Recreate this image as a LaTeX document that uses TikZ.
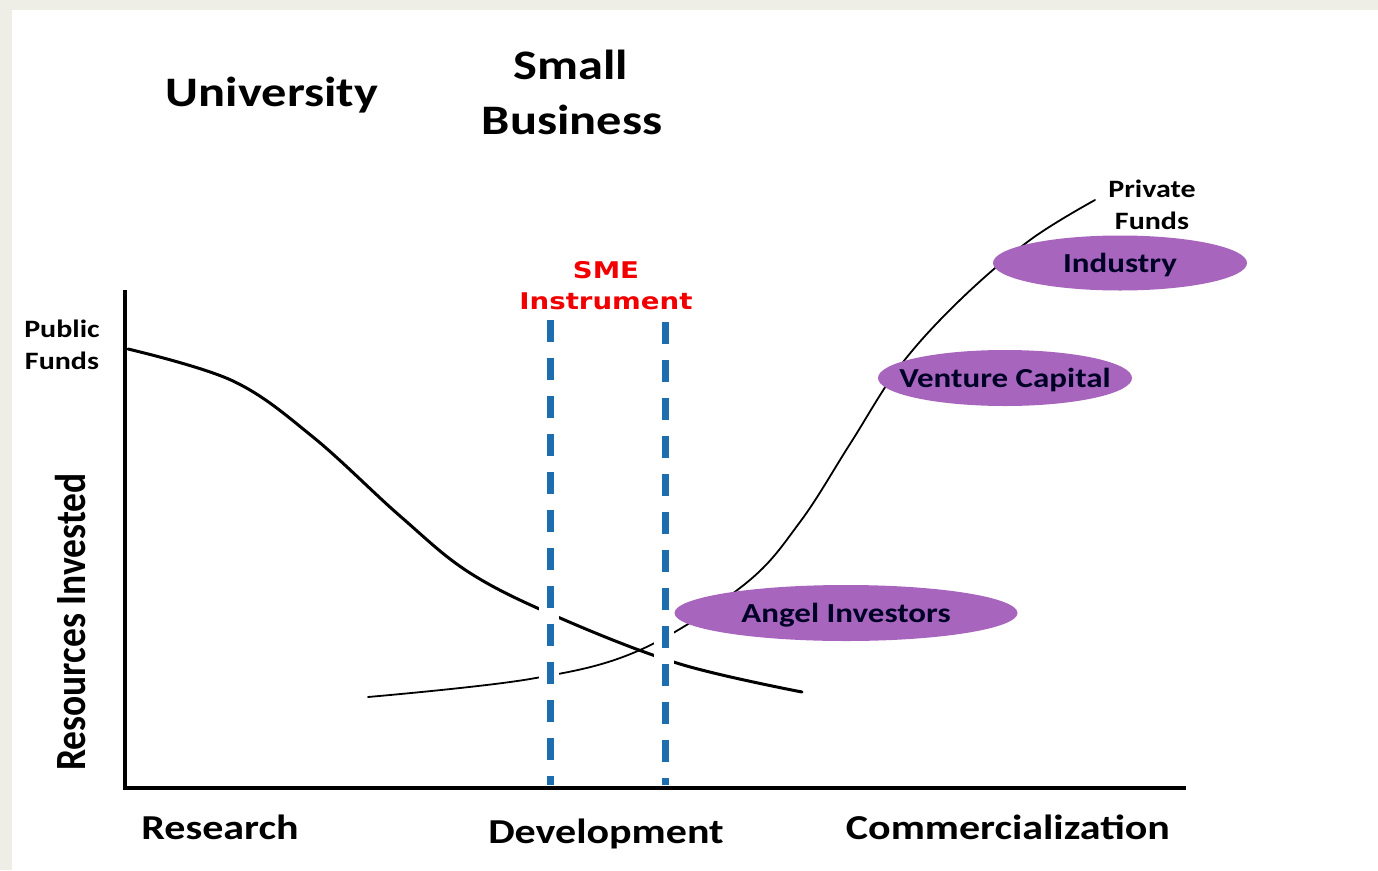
\documentclass[tikz,border=0pt]{standalone}
\usepackage{fontspec}
\setmainfont{Carlito}[FakeStretch=1.2]
\newfontfamily\plainfont{Carlito}
\newfontfamily\smefont{DejaVu Sans}[FakeStretch=1.2]
\usetikzlibrary{shapes.geometric}
\definecolor{beige}{HTML}{EEEEE6}
\definecolor{purp}{HTML}{A865BE}
\definecolor{smeblue}{HTML}{1C6EAE}
\definecolor{smered}{HTML}{F20000}
\tikzset{
  lbl/.style={inner sep=0pt, anchor=base, font=\bfseries},
  head/.style={lbl, font=\fontsize{42}{55}\selectfont\bfseries},
  axlbl/.style={lbl, font=\fontsize{35}{40}\selectfont\bfseries},
  fund/.style={lbl, font=\fontsize{25}{32}\selectfont\bfseries},
  oval/.style={ellipse, fill=purp, draw=none, inner sep=0pt},
  ovaltext/.style={inner sep=0pt, text height=18pt, text depth=0pt,
    font=\fontsize{27.5}{30}\selectfont\bfseries, text=black!85!blue},
  axis/.style={line width=4pt, line cap=rect},
  pubcurve/.style={line width=3pt, line cap=round},
  privcurve/.style={line width=1.8pt, line cap=round},
  smeline/.style={line width=7pt, smeblue, dash pattern=on 22pt off 16pt},
  gapstrip/.style={line width=20pt, white},
}
\begin{document}
\begin{tikzpicture}[x=1pt,y=-1pt]
\useasboundingbox (0,0) rectangle (1378,870);
\fill[beige] (0,0) rectangle (1378,870);
\fill[white] (12,10) rectangle (1378,870);

% headings
\node[head] (uni) at (272,106) {University};
\node[head] (small) at (571,79) {Small};
\node[head] (bus) at (572,134) {Business};

% axes
\coordinate (top) at (125,292);
\coordinate (origin) at (125,788);
\coordinate (right) at (1184,788);
\draw[axis] (top) -- (origin) -- (right);

% axis labels
\node[axlbl] (res) at (220,839) {Research};
\node[axlbl] (dev) at (606,843) {Development};
\node[axlbl] (com) at (1008,839) {Commercialization};
\node[inner sep=0pt, rotate=90] (ri) at (71,622) {\scalebox{1}[1.15]{\plainfont\fontsize{37.5}{40}\selectfont\bfseries Resources Invested}};

% funds labels
\node[fund] (pub1) at (62,337) {Public};
\node[fund] (pub2) at (62,369) {Funds};
\node[fund] (pri1) at (1152,197) {Private};
\node[fund] (pri2) at (1152,229) {Funds};

% curves
\draw[pubcurve] plot[smooth, tension=0.6] coordinates {(128,349) (233,381) (313,437) (400,516) (470,573) (560,618) (680,664) (802,692)};
\draw[privcurve] plot[smooth, tension=0.6] coordinates {(368,697) (530,679) (640,650) (745,584) (800,522) (850,444) (900,366) (960,300) (1030,240) (1095,200)};

% gaps where the curves cross the SME lines
\coordinate (g1a) at (549,598); \coordinate (g1b) at (549,700);
\coordinate (g2a) at (664,598); \coordinate (g2b) at (664,700);
\draw[gapstrip] (g1a) -- (g1b);
\draw[gapstrip] (g2a) -- (g2b);

% SME instrument lines
\coordinate (s1t) at (550,320); \coordinate (s1b) at (550,785);
\coordinate (s2t) at (665,322); \coordinate (s2b) at (665,785);
\draw[smeline] (s1t) -- (s1b);
\draw[smeline] (s2t) -- (s2b);
\node[lbl, smered, font=\smefont\fontsize{23}{30}\selectfont\bfseries] (sme1) at (606,278) {SME};
\node[lbl, smered, font=\smefont\fontsize{23}{30}\selectfont\bfseries] (sme2) at (606,309) {Instrument};

% investor ellipses
\node[oval, minimum width=254pt, minimum height=55pt] (ind) at (1120,263) {};
\node[ovaltext] (indt) at (ind.center) {Industry};
\node[oval, minimum width=254pt, minimum height=56pt] (vc) at (1005,378) {};
\node[ovaltext] (vct) at (vc.center) {Venture Capital};
\node[oval, minimum width=343pt, minimum height=56pt] (ang) at (846,613) {};
\node[ovaltext] (angt) at (ang.center) {Angel Investors};
\end{tikzpicture}
\end{document}
